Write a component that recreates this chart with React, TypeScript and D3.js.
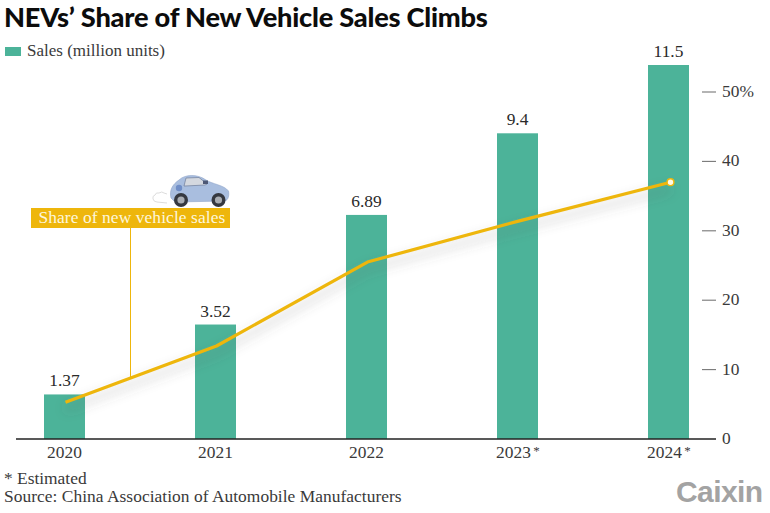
import React from "react";
import * as d3 from "d3";

const years = ["2020", "2021", "2022", "2023", "2024"];
const yearMarks = ["", "", "", "*", "*"];
const sales = [1.37, 3.52, 6.89, 9.4, 11.5];
const salesLabels = ["1.37", "3.52", "6.89", "9.4", "11.5"];
const share = [5.3, 13.4, 25.5, 31.4, 37];
const shareTicks = [0, 10, 20, 30, 40, 50];

const W = 770, H = 513;
const baseY = 439;
const serif = "'Liberation Serif', serif";
const ink = "#3a3a3a";
const green = "#4cb399";
const gold = "#eeb60c";

export default function App() {
  const x = d3.scalePoint<string>().domain(years).range([64.5, 668.5]);
  const ySales = d3.scaleLinear().domain([0, 11.5]).range([baseY, 65]);
  const yShare = d3.scaleLinear().domain([0, 50]).range([baseY, 92]);
  const barW = 41;
  const linePath = d3.line<number>()
    .x((_, i) => x(years[i])! + (i === 4 ? 2 : 1))
    .y((d) => yShare(d))
    .curve(d3.curveLinear)(share)!;
  const last = share.length - 1;

  return (
    <svg width={W} height={H} viewBox={`0 0 ${W} ${H}`}
      style={{ position: "absolute", left: 0, top: 0, background: "#fff" }}>
      <defs>
        <filter id="soft" x="-10%" y="-30%" width="120%" height="170%">
          <feGaussianBlur stdDeviation="6" />
        </filter>
        <filter id="tiny" x="-5%" y="-5%" width="110%" height="110%">
          <feGaussianBlur stdDeviation="0.35" />
        </filter>
      </defs>

      <text x={4} y={27} fontFamily="Lato, sans-serif" fontWeight={900} fontSize={27.2} letterSpacing={-0.22} fill="#0c0c0c">
        NEVs’ Share of New Vehicle Sales Climbs
      </text>

      <rect x={5} y={47} width={16} height={9} fill={green} />
      <text x={27} y={56} fontFamily={serif} fontSize={17} fill={ink}>Sales (million units)</text>

      {/* bars */}
      {years.map((yr, i) => (
        <g key={yr}>
          <rect x={x(yr)! - barW / 2} y={ySales(sales[i])} width={barW} height={baseY - ySales(sales[i])} fill={green} />
          <text x={x(yr)!} y={ySales(sales[i]) - 8} textAnchor="middle" fontFamily={serif} fontSize={17.4} fill="#2a2a2a">
            {salesLabels[i]}
          </text>
          <text x={x(yr)! - (yearMarks[i] ? 4 : 0)} y={458} textAnchor="middle" fontFamily={serif} fontSize={17.4} fill={ink}>{yr}</text>
          {yearMarks[i] && (
            <text x={x(yr)! + 19} y={455} textAnchor="middle" fontFamily={serif} fontSize={13} fill={ink}>{yearMarks[i]}</text>
          )}
        </g>
      ))}

      {/* baseline */}
      <line x1={16} x2={716} y1={baseY} y2={baseY} stroke="#222" strokeWidth={1.3} />

      {/* right axis */}
      {shareTicks.map((t) => (
        <g key={t}>
          {t > 0 && <line x1={702} x2={716} y1={yShare(t)} y2={yShare(t)} stroke="#777" strokeWidth={1.1} />}
          <text x={722} y={yShare(t) + 5} fontFamily={serif} fontSize={17.4} fill={ink}>
            {t === 50 ? "50%" : String(t)}
          </text>
        </g>
      ))}

      {/* callout */}
      <line x1={130.5} x2={130.5} y1={226} y2={378} stroke={gold} strokeWidth={1} />
      <rect x={31} y={208} width={199} height={20} fill={gold} />
      <text x={38.5} y={223} fontFamily={serif} fontSize={17.4} letterSpacing={0.09} fill="#fdf6dc">Share of new vehicle sales</text>

      {/* share line */}
      <path d={linePath} fill="none" stroke="#555" strokeOpacity={0.3} strokeWidth={4} filter="url(#soft)" transform="translate(0,7)" />
      <path d={linePath} fill="none" stroke={gold} strokeWidth={3.2} strokeLinejoin="round" />
      <circle cx={x(years[last])! + 2} cy={yShare(share[last])} r={3.4} fill="#fffbe6" stroke={gold} strokeWidth={1.4} />

      {/* car */}
      <g filter="url(#tiny)">
        <path d="M153 199 q-1 -3 2 -4 q1 -3 4 -2 q3 -2 5 0 l3 1 M153 199 q1 3 4 3 l10 1" fill="none" stroke="#d8d8d8" strokeWidth={0.9} />
        <path d="M171 198 C169 190 173 184 179 180 C185 174 198 174 206 180 C212 184 224 185 228.500 191 C229.500 196 228 200 225 201 L175 202 Z" fill="#a9bedf" stroke="#8ea4ca" strokeWidth={0.6} />
        <path d="M184 186 L186 178 L199 177.500 L207 184 L205 185 L185 186 Z" fill="#d4d8df" stroke="#6f7c99" strokeWidth={0.7} />
        <rect x={203} y={180.500} width={5} height={3.500} fill="#4d5875" />
        <circle cx={179} cy={188} r={3.2} fill="#6f8ec7" />
        <circle cx={181} cy={200} r={7} fill="#34383f" />
        <circle cx={181} cy={200} r={3.6} fill="#a9adb3" />
        <circle cx={218.500} cy={200} r={7} fill="#34383f" />
        <circle cx={218.500} cy={200} r={3.6} fill="#a9adb3" />
      </g>

      {/* footer */}
      <text x={4} y={484} fontFamily={serif} fontSize={17.4} fill={ink}>* Estimated</text>
      <text x={4} y={502} fontFamily={serif} fontSize={17.4} letterSpacing={0.04} fill={ink}>Source: China Association of Automobile Manufacturers</text>

      <text x={676} y={502} fontFamily="'Liberation Sans', sans-serif" fontWeight={700} fontSize={30} letterSpacing={-0.6} fill="#a3a3a3">Caixin</text>
    </svg>
  );
}
